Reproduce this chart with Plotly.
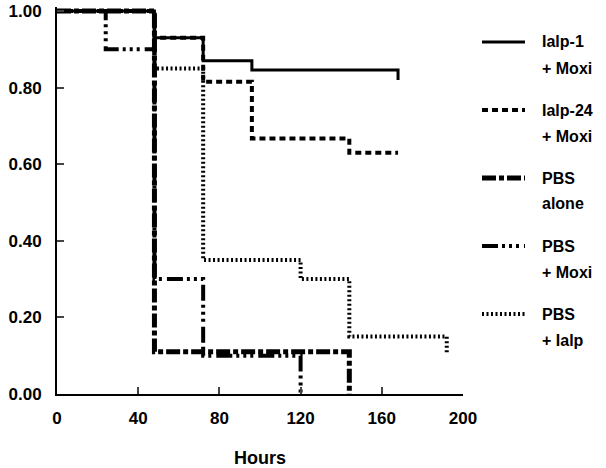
import plotly.graph_objects as go

# survival curves (step functions, hours vs fraction surviving)
ialp1_t = [0, 48, 72, 96, 168]
ialp1_s = [1.00, 0.93, 0.87, 0.846, 0.82]

ialp24_t = [0, 48, 72, 96, 144, 168]
ialp24_s = [1.00, 0.93, 0.815, 0.667, 0.63, 0.63]

pbs_t = [0, 48, 144]
pbs_s = [1.00, 0.11, 0.00]

pbs_moxi_t = [0, 24, 48, 72, 120]
pbs_moxi_s = [1.00, 0.90, 0.30, 0.10, 0.00]

pbs_ialp_t = [0, 48, 72, 120, 144, 192]
pbs_ialp_s = [1.00, 0.85, 0.35, 0.30, 0.15, 0.107]

x_ticks = [0, 40, 80, 120, 160, 200]
y_ticks = [0.0, 0.2, 0.4, 0.6, 0.8, 1.0]

labels = [("Ialp-1", "+ Moxi"), ("Ialp-24", "+ Moxi"), ("PBS", "alone"),
          ("PBS", "+ Moxi"), ("PBS", "+ Ialp")]

series = [
    (ialp1_t, ialp1_s, dict(width=3, dash="solid")),
    (ialp24_t, ialp24_s, dict(width=4, dash="6px,4px")),
    (pbs_t, pbs_s, dict(width=5, dash="14px,3px,5px,3px")),
    (pbs_moxi_t, pbs_moxi_s, dict(width=4, dash="16px,4px,3px,4px,3px,4px,3px,5px")),
    (pbs_ialp_t, pbs_ialp_s, dict(width=4, dash="2px,2.5px")),
]

FONT = "Liberation Sans, Arial, sans-serif"

fig = go.Figure()
for (t, s, style), lab in zip(series, labels):
    fig.add_trace(go.Scatter(x=t, y=s, mode="lines", line_shape="hv",
                             line=dict(color="black", **style),
                             name=" ".join(lab), showlegend=False))

# plot area in pixels: left 57, right 463, top 7, bottom 394 (body margin removed below)
W, H = 606, 468
L, R, T, B = 57, 463, 7, 394
y1_px = 11                      # pixel row of y = 1.00
ytop = (B - T) / (B - y1_px)

def px_x(p):
    return (p - L) / (R - L)
def px_y(p):
    return (B - p) / (B - T)

# hand-built legend, one entry every 68 px
for i, ((_, _, style), (l1, l2)) in enumerate(zip(series, labels)):
    yy = 42 + 68 * i
    fig.add_shape(type="line", xref="paper", yref="paper",
                  x0=px_x(482), x1=px_x(525), y0=px_y(yy), y1=px_y(yy),
                  line=dict(color="black", **style))
    for j, txt in enumerate([l1, l2]):
        fig.add_annotation(text=txt, xref="paper", yref="paper",
                           x=px_x(540), y=px_y(yy + 26 * j),
                           xanchor="left", yanchor="middle", showarrow=False,
                           font=dict(family=FONT, size=16, color="black", weight="bold"))

fig.update_xaxes(range=[0, 200], tickvals=x_ticks, ticks="inside", ticklen=7, tickwidth=2,
                 showline=True, linewidth=2, linecolor="black", showgrid=False, zeroline=False,
                 automargin=False, ticklabelstandoff=8,
                 tickfont=dict(family=FONT, size=17, color="black", weight="bold"),
                 title=dict(text="Hours", standoff=30,
                            font=dict(family=FONT, size=18, color="black", weight="bold")))
fig.update_yaxes(range=[0, ytop], tickvals=y_ticks, tickformat=".2f", ticks="inside",
                 ticklen=7, tickwidth=2, showline=True, linewidth=2, linecolor="black",
                 showgrid=False, zeroline=False, ticklabelstandoff=10, automargin=False,
                 ticklabeloverflow="allow",
                 tickfont=dict(family=FONT, size=17, color="black", weight="bold"))

fig.update_layout(width=W, height=H,
                  margin=dict(l=L, r=W - R, t=T, b=H - B, pad=0),
                  plot_bgcolor="white", paper_bgcolor="white")

fig.write_html("out.html", config={"displayModeBar": False},
               post_script="document.body.style.margin='0';")
